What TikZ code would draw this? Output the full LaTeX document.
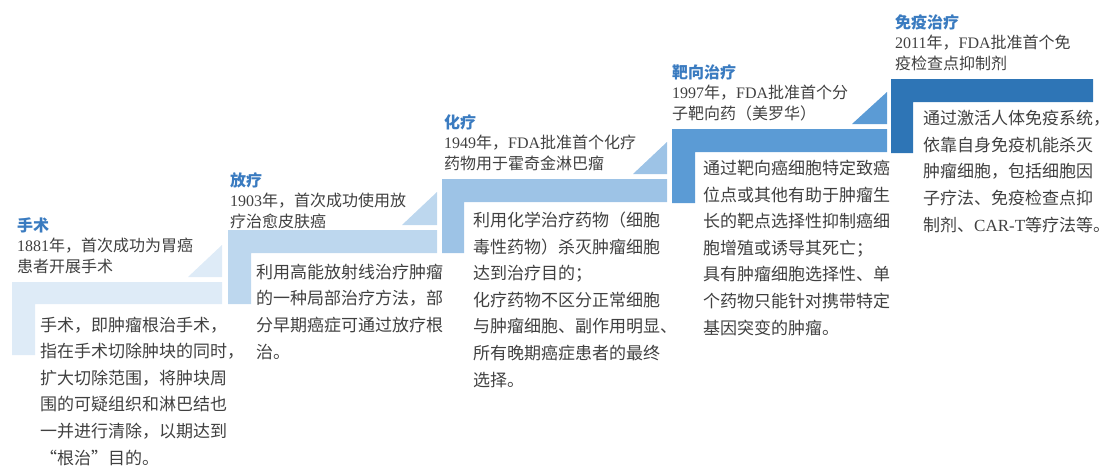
\documentclass[tikz,border=0pt]{standalone}
\usepackage{fontspec}
\setmainfont{Noto Sans CJK SC}
\newfontfamily\lat{Liberation Serif}
\usetikzlibrary{positioning}

\definecolor{stagea}{HTML}{DEEBF7}
\definecolor{stageb}{HTML}{BDD7EE}
\definecolor{stagec}{HTML}{9DC3E6}
\definecolor{staged}{HTML}{5B9BD5}
\definecolor{stagee}{HTML}{2E75B6}
\definecolor{titleblue}{HTML}{3A7BC0}
\definecolor{textgray}{HTML}{404040}

% multi-line nodes: base = baseline of the last line
\tikzset{
  head/.style={anchor=base west, inner sep=0pt, align=left, text=textgray,
    font=\fontsize{16}{20.5}\selectfont},
  body/.style={anchor=base west, inner sep=0pt, align=left, text=textgray,
    font=\fontsize{17}{26.6}\selectfont}
}

\begin{document}
\begin{tikzpicture}[x=1pt,y=-1pt]
                \useasboundingbox (0,0) rectangle (1100,466);
                % steps
                \fill[stagea] (12,282) -- (222,282) -- (222,304) -- (35,304) -- (35,355) -- (12,355) -- cycle;
                \fill[stagea] (188,277) -- (222,277) -- (222,245) -- cycle;
                \fill[stageb] (228,230) -- (437,230) -- (437,253) -- (251,253) -- (251,304) -- (228,304) -- cycle;
                \fill[stageb] (402,225) -- (437,225) -- (437,192) -- cycle;
                \fill[stagec] (442,179) -- (667,179) -- (667,202) -- (464,202) -- (464,253) -- (442,253) -- cycle;
                \fill[stagec] (633,174) -- (667,174) -- (667,142) -- cycle;
                \fill[staged] (672,129) -- (887,129) -- (887,152) -- (695,152) -- (695,203) -- (672,203) -- cycle;
                \fill[staged] (852,124) -- (887,124) -- (887,92) -- cycle;
                \fill[stagee] (891,79) -- (1093,79) -- (1093,102) -- (913,102) -- (913,153) -- (891,153) -- cycle;
                % headers
                \node[head] (surgery)   at (17,272)  {\textcolor{titleblue}{\bfseries 手术}\\{\lat 1881}年，首次成功为胃癌\\患者开展手术};
                \node[head] (radio)     at (230,227) {\textcolor{titleblue}{\bfseries 放疗}\\{\lat 1903}年，首次成功使用放\\疗治愈皮肤癌};
                \node[head] (chemo)     at (444,169) {\textcolor{titleblue}{\bfseries 化疗}\\{\lat 1949}年，{\lat FDA}批准首个化疗\\药物用于霍奇金淋巴瘤};
                \node[head] (target)    at (672,119) {\textcolor{titleblue}{\bfseries 靶向治疗}\\{\lat 1997}年，{\lat FDA}批准首个分\\子靶向药（美罗华）};
                \node[head] (immuno)    at (895,69)  {\textcolor{titleblue}{\bfseries 免疫治疗}\\{\lat 2011}年，{\lat FDA}批准首个免\\疫检查点抑制剂};
                % descriptions
                \node[body] (surgerytext) at (40,464)  {手术，即肿瘤根治手术，\\指在手术切除肿块的同时，\\扩大切除范围，将肿块周\\围的可疑组织和淋巴结也\\一并进行清除，以期达到\\“根治”目的。};
                \node[body] (radiotext)   at (256,358) {利用高能放射线治疗肿瘤\\的一种局部治疗方法，部\\分早期癌症可通过放疗根\\治。};
                \node[body] (chemotext)   at (473,386) {利用化学治疗药物（细胞\\毒性药物）杀灭肿瘤细胞\\达到治疗目的；\\化疗药物不区分正常细胞\\与肿瘤细胞、副作用明显、\\所有晚期癌症患者的最终\\选择。};
                \node[body] (targettext)  at (703,334) {通过靶向癌细胞特定致癌\\位点或其他有助于肿瘤生\\长的靶点选择性抑制癌细\\胞增殖或诱导其死亡；\\具有肿瘤细胞选择性、单\\个药物只能针对携带特定\\基因突变的肿瘤。};
                \node[body] (immunotext)  at (923,231) {通过激活人体免疫系统，\\依靠自身免疫机能杀灭\\肿瘤细胞，包括细胞因\\子疗法、免疫检查点抑\\制剂、{\lat CAR-T}等疗法等。};
\end{tikzpicture}
\end{document}
